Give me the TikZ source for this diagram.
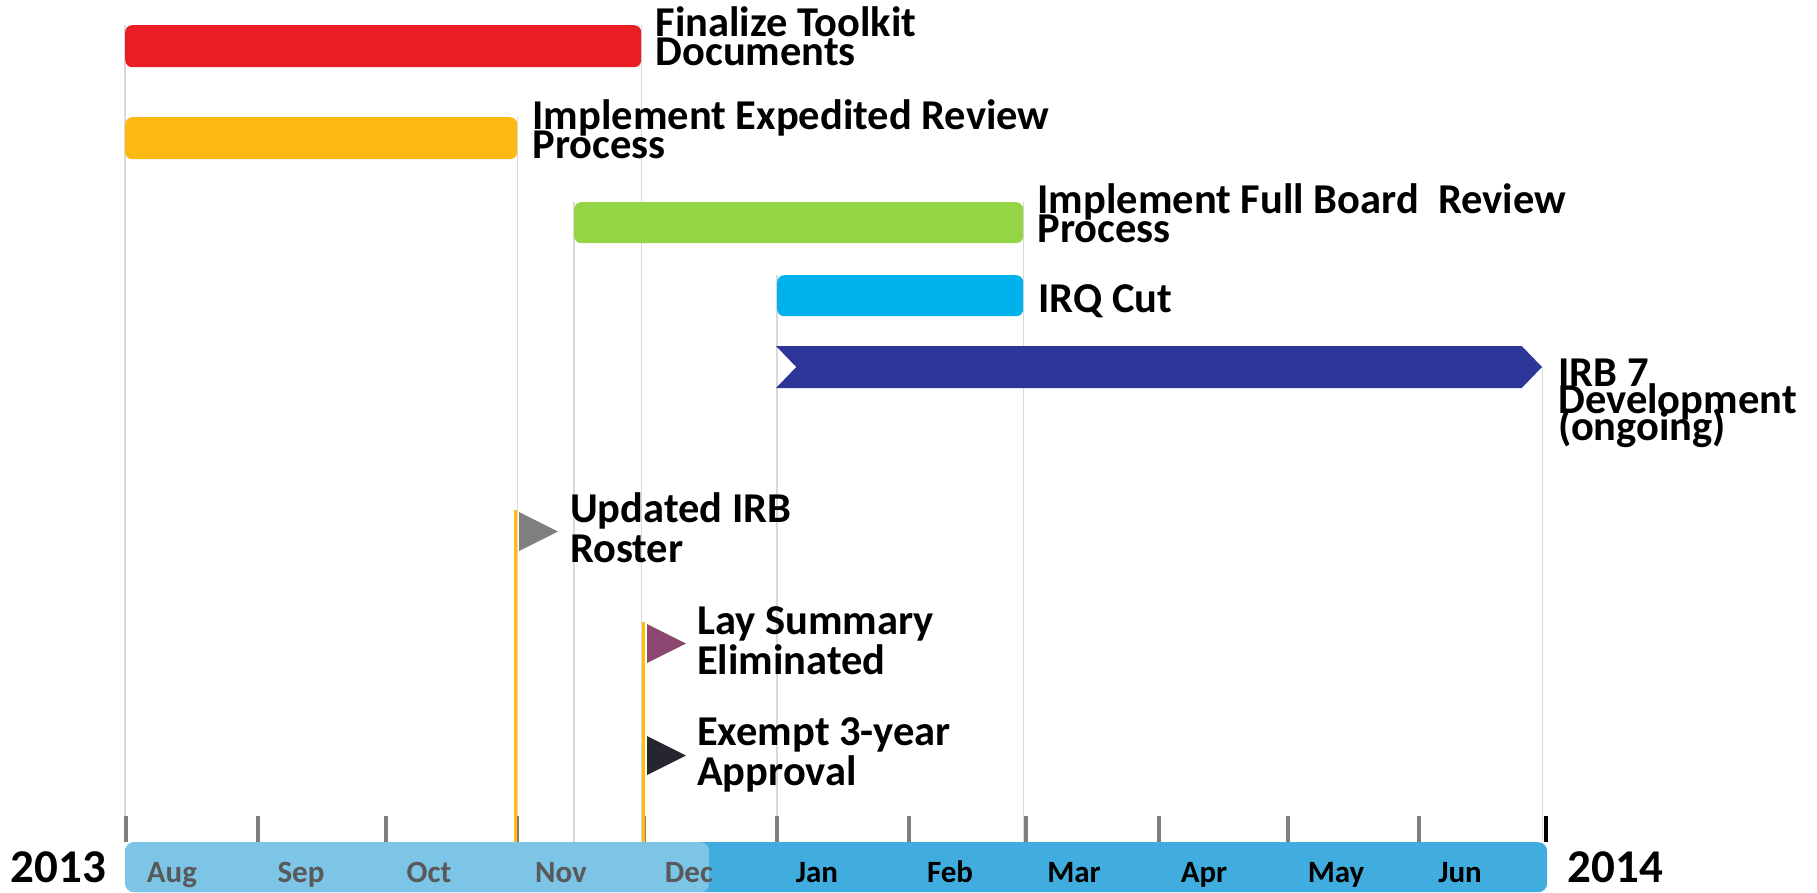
\documentclass[tikz,border=0pt]{standalone}
\usepackage{fontspec}
\setmainfont{Carlito}
\usetikzlibrary{positioning, calc, shapes.symbols, backgrounds}

\definecolor{finred}{HTML}{EA1C24}
\definecolor{expyel}{HTML}{FDB913}
\definecolor{fullgrn}{HTML}{93D544}
\definecolor{irqcyan}{HTML}{00B2EB}
\definecolor{irbnavy}{HTML}{2E3799}
\definecolor{axlightblue}{HTML}{7CC5E7}
\definecolor{axdarkblue}{HTML}{40ADDE}
\definecolor{monthgray}{HTML}{595959}
\definecolor{tickgray}{HTML}{7F7F7F}
\definecolor{gridgray}{HTML}{D9D9D9}
\definecolor{poleyel}{HTML}{FFC000}
\definecolor{rostergray}{HTML}{7F7F7F}
\definecolor{laypurple}{HTML}{8B4770}
\definecolor{exemptdark}{HTML}{262630}

% labels with line spacing below the font size
\newcommand\tightlines{\lineskiplimit=-50pt\relax}

\begin{document}
\begin{tikzpicture}[x=1pt, y=-1pt,
  bar/.style={anchor=north west, rounded corners=7pt, inner sep=0pt, minimum height=42pt},
  axbar/.style={anchor=north west, rounded corners=9pt, inner sep=0pt, minimum height=50pt},
  lbl/.style={anchor=base west, align=left, inner sep=0pt,
              font=\bfseries\fontsize{42.5}{29}\selectfont\tightlines},
  flaglbl/.style={lbl, font=\bfseries\fontsize{42.5}{40}\selectfont\tightlines},
  month/.style={anchor=base, inner sep=0pt, font=\bfseries\fontsize{31}{31}\selectfont},
  year/.style={inner sep=0pt, font=\bfseries\fontsize{47}{47}\selectfont},
  grid/.style={draw=gridgray, line width=1.5pt},
  pole/.style={draw=poleyel, line width=3pt},
  tick/.style={draw=tickgray, line width=3.5pt}]
  \useasboundingbox (0,0) rectangle (1817,892);

  % time axis, Aug 2013 -- Jun 2014
  \node[axbar, fill=axdarkblue, minimum width=1422pt] (axdark) at (125,842) {};
  \node[axbar, fill=axlightblue, minimum width=584pt] (axlight) at (125,842) {};
  \foreach \x in {126,258,386,517,644,777,909,1026,1159,1288,1419}
    \draw[tick] (\x,816) -- (\x,842);
  \draw[tick, draw=black] (1546,816) -- (1546,842);
  \foreach \x/\m in {172/Aug, 301/Sep, 429/Oct, 561/Nov, 689/Dec}
    \node[month, text=monthgray] (m\m) at (\x,882) {\m};
  \foreach \x/\m in {817/Jan, 950/Feb, 1074/Mar, 1204/Apr, 1336/May, 1460/Jun}
    \node[month] (m\m) at (\x,882) {\m};
  \node[year, left=19pt of axlight] (y2013) {2013};
  \node[year, right=20pt of axdark] (y2014) {2014};

  % tasks (label anchor sits on the last line)
  \node[bar, fill=finred, minimum width=516pt] (fin) at (125,25) {};
  \node[lbl] (finlbl) at ($(fin.north east)+(14,40)$) {Finalize Toolkit\\Documents};
  \node[bar, fill=expyel, minimum width=392pt] (exp) at (125,117) {};
  \node[lbl] (explbl) at ($(exp.north east)+(15,41)$) {Implement Expedited Review\\Process};
  \node[bar, fill=fullgrn, minimum width=449pt, minimum height=41pt] (full) at (574,202) {};
  \node[lbl] (fulllbl) at ($(full.north east)+(14,40)$) {Implement Full Board\ \ Review\\Process};
  \node[bar, fill=irqcyan, minimum width=246pt, minimum height=41pt] (irq) at (777,275) {};
  \node[lbl] (irqlbl) at ($(irq.north east)+(15,37)$) {IRQ Cut};
  \node[signal, signal to=east, signal from=west, signal pointer angle=92,
        fill=irbnavy, inner sep=0pt, minimum width=766pt, minimum height=42pt] (irb) at (1159,367) {};
  \node[lbl, font=\bfseries\fontsize{42.5}{27}\selectfont\tightlines] (irblbl)
    at ($(irb.east)+(16,73)$) {IRB 7\\Development\\(ongoing)};

  % date lines behind the bars
  \begin{scope}[on background layer]
    \foreach \n in {fin.north west, fin.north east, exp.north east, full.north west,
                    full.north east, irq.north west, irb.east}
      \draw[grid] (\n) -- (\n |- axdark.north);
  \end{scope}

  % milestones
  \coordinate (flagA) at (515,510);
  \coordinate (flagB) at (643,622);
  \draw[pole] (flagA) -- (flagA |- axdark.north);
  \draw[pole] (flagB) -- (flagB |- axdark.north);
  \fill[rostergray] ($(flagA)+(4,2)$) -- ++(39,19.5) -- ++(-39,19.5) -- cycle;
  \fill[laypurple] ($(flagB)+(4,2)$) -- ++(39,19.5) -- ++(-39,19.5) -- cycle;
  \fill[exemptdark] ($(flagB)+(4,114)$) -- ++(39,19.5) -- ++(-39,19.5) -- cycle;
  \node[flaglbl] (rosterlbl) at ($(flagA)+(55,52)$) {Updated IRB\\Roster};
  \node[flaglbl] (laylbl) at ($(flagB)+(54,52)$) {Lay Summary\\Eliminated};
  \node[flaglbl] (exemptlbl) at ($(flagB)+(54,163)$) {Exempt 3-year\\Approval};
\end{tikzpicture}
\end{document}
